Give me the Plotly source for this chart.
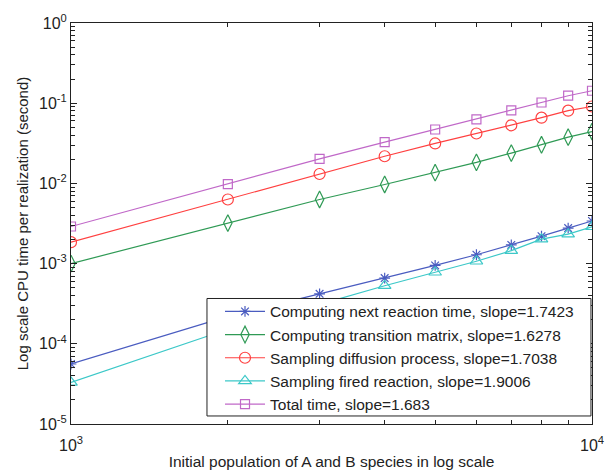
import plotly.graph_objects as go

population = [1000, 2000, 3000, 4000, 5000, 6000, 7000, 8000, 9000, 10000]

next_reaction = [5.6e-5, 2.2e-4, 4.2e-4, 6.6e-4, 9.5e-4, 1.29e-3, 1.71e-3, 2.2e-3, 2.77e-3, 3.4e-3]
transition_matrix = [1.0e-3, 3.2e-3, 6.3e-3, 9.7e-3, 1.36e-2, 1.83e-2, 2.39e-2, 3.03e-2, 3.77e-2, 4.43e-2]
diffusion = [1.85e-3, 6.3e-3, 1.31e-2, 2.18e-2, 3.15e-2, 4.19e-2, 5.3e-2, 6.6e-2, 8.07e-2, 9.1e-2]
fired_reaction = [3.3e-5, 1.52e-4, 3.1e-4, 5.3e-4, 7.8e-4, 1.07e-3, 1.45e-3, 2.02e-3, 2.33e-3, 2.88e-3]
total = [2.9e-3, 9.8e-3, 2.02e-2, 3.27e-2, 4.7e-2, 6.3e-2, 8.15e-2, 1.02e-1, 1.24e-1, 1.43e-1]

names = [
    "Computing next reaction time, slope=1.7423",
    "Computing transition matrix, slope=1.6278",
    "Sampling diffusion process, slope=1.7038",
    "Sampling fired reaction, slope=1.9006",
    "Total time, slope=1.683",
]
series = [next_reaction, transition_matrix, diffusion, fired_reaction, total]
colors = ["#4a5cc0", "#2f9a55", "#ff4040", "#3cc8c8", "#c068c8"]
symbols = ["asterisk-open", "diamond-tall-open", "circle-open", "triangle-up-open", "square-open"]
sizes = [9, 12, 11, 11, 9]

y_tick_exps = [0, -1, -2, -3, -4, -5]
x_tick_exps = [3, 4]

fig = go.Figure()
for name, vals, c, s, sz in zip(names, series, colors, symbols, sizes):
    fig.add_trace(go.Scatter(
        x=population, y=vals, name=name, mode="lines+markers",
        line=dict(color=c, width=1.2),
        marker=dict(symbol=s, size=sz, color=c, line=dict(color=c, width=1.2)),
    ))

x_minor = [m * 10 ** e for e in [3] for m in range(2, 10)]
y_minor = [m * 10.0 ** e for e in range(-5, 0) for m in range(2, 10)]

# legend frame drawn as a shape (paper coordinates), entries drawn by the legend on top
fig.add_shape(
    type="rect", xref="paper", yref="paper",
    x0=0.261, x1=0.998, y0=0.02, y1=0.313,
    fillcolor="white", line=dict(color="#222", width=1), layer="above",
)

font = "Liberation Sans, Arial, sans-serif"
fig.update_layout(
    width=605, height=470,
    margin=dict(l=71, r=13, t=20, b=46),
    paper_bgcolor="white", plot_bgcolor="white",
    font=dict(family=font, size=14, color="#222"),
    showlegend=True,
    legend=dict(
        x=0.286, y=0.322, xanchor="left", yanchor="top",
        bgcolor="rgba(0,0,0,0)", borderwidth=0,
        font=dict(size=15.5, family=font),
        tracegroupgap=0, itemwidth=40,
    ),
)
fig.update_xaxes(
    type="log", range=[3, 4], automargin=False,
    tickmode="array",
    tickvals=[10 ** e for e in x_tick_exps],
    ticktext=[f"10<sup>{e}</sup>" for e in x_tick_exps],
    ticks="inside", ticklen=6, tickcolor="#222",
    showline=True, linecolor="#222", linewidth=1, mirror="ticks",
    showgrid=False, zeroline=False,
    minor=dict(tickmode="array", tickvals=x_minor, ticks="inside", ticklen=4, tickcolor="#222", showgrid=False),
    title=dict(text="Initial population of A and B species in log scale", font=dict(size=15.5)),
    tickfont=dict(size=16),
    ticklabelstandoff=7,
)
fig.update_yaxes(
    type="log", range=[-5, 0],
    tickmode="array",
    tickvals=[10.0 ** e for e in y_tick_exps],
    ticktext=[f"10<sup>{e}</sup>" for e in y_tick_exps],
    ticks="inside", ticklen=6, tickcolor="#222",
    showline=True, linecolor="#222", linewidth=1, mirror="ticks",
    showgrid=False, zeroline=False,
    minor=dict(tickmode="array", tickvals=y_minor, ticks="inside", ticklen=4, tickcolor="#222", showgrid=False),
    title=dict(text="Log scale CPU time per realization (second)", font=dict(size=15), standoff=6),
    tickfont=dict(size=16),
)

fig.write_html("out.html")
